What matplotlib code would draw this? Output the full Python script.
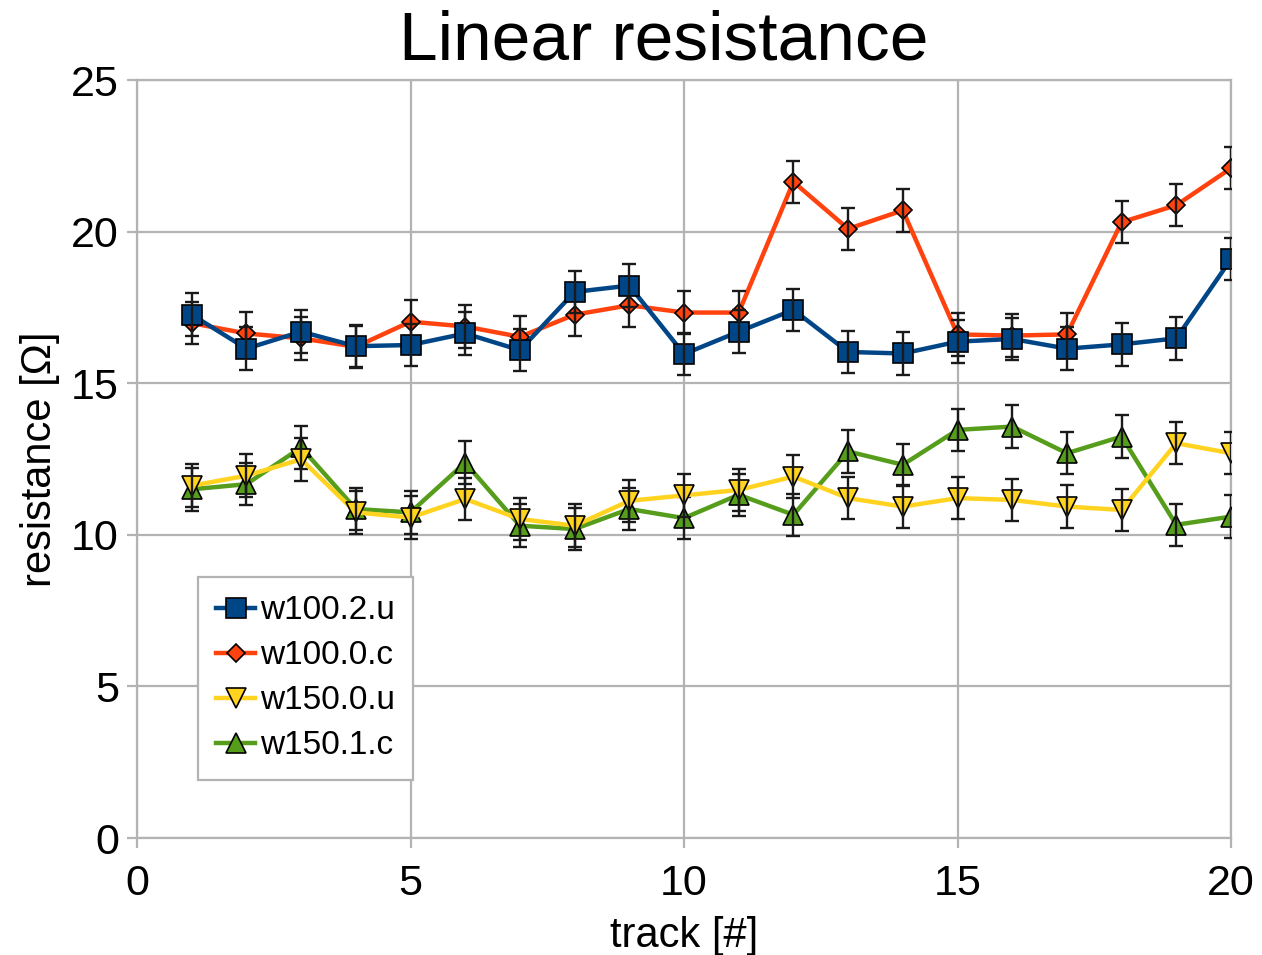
import numpy as np
import matplotlib
matplotlib.use("Agg")
import matplotlib.pyplot as plt

plt.rcParams['font.family'] = ['Liberation Sans', 'DejaVu Sans']

track = list(range(1, 21))

w100_2_u = [17.26, 16.14, 16.70, 16.22, 16.26, 16.64, 16.09, 18.01, 18.22, 15.96,
            16.70, 17.42, 16.03, 15.98, 16.37, 16.46, 16.14, 16.28, 16.48, 19.09]
w100_0_c = [16.98, 16.64, 16.48, 16.20, 17.03, 16.87, 16.53, 17.26, 17.57, 17.33,
            17.33, 21.64, 20.09, 20.70, 16.61, 16.57, 16.61, 20.31, 20.87, 22.09]
w150_0_u = [11.62, 11.95, 12.49, 10.74, 10.57, 11.18, 10.52, 10.30, 11.12, 11.30,
            11.48, 11.92, 11.21, 10.93, 11.21, 11.15, 10.93, 10.82, 13.02, 12.69]
w150_1_c = [11.50, 11.67, 12.88, 10.85, 10.74, 12.38, 10.30, 10.19, 10.85, 10.55,
            11.32, 10.66, 12.75, 12.31, 13.46, 13.57, 12.69, 13.24, 10.33, 10.60]
err = 0.7

labels = ['w100.2.u', 'w100.0.c', 'w150.0.u', 'w150.1.c']
series = [w100_2_u, w100_0_c, w150_0_u, w150_1_c]
colors = ['#004586', '#ff420e', '#ffd320', '#579d1c']
markers = ['s', 'D', 'v', '^']
msizes = [15, 9, 15, 15]
zorders = [8, 7, 6, 5]

fig = plt.figure(figsize=(12.62, 9.55), dpi=100)
ax = fig.add_axes([137/1262, 1 - 838/955, (1231-137)/1262, (838-80)/955])

grid_c = '#b3b3b3'
handles = []
for y, lab, c, m, ms, z in zip(series, labels, colors, markers, msizes, zorders):
    h, = ax.plot(track, y, color=c, lw=3.2, marker=m, markersize=ms,
                 markerfacecolor=c, markeredgecolor='black', markeredgewidth=1.2,
                 label=lab, zorder=z)
    ax.errorbar(track, y, yerr=err, fmt='none', ecolor='#1a1a1a', elinewidth=1.7,
                capsize=5, capthick=1.7, zorder=z + 0.5)
    handles.append(h)

ax.set_xlim(0, 20)
ax.set_ylim(0, 25)
ax.set_xticks(range(0, 21, 5))
ax.set_yticks(range(0, 26, 5))
ax.grid(True, color=grid_c, lw=1.6)
ax.set_axisbelow(True)
for s in ax.spines.values():
    s.set_color(grid_c)
    s.set_linewidth(1.6)
ax.tick_params(axis='both', colors=grid_c, length=7, width=1.6, labelsize=31,
               labelcolor='black')
ax.tick_params(axis='x', pad=12)
ax.tick_params(axis='y', pad=6)

ax.set_xlabel('track [#]', fontsize=30, labelpad=8)
ax.set_ylabel('resistance [Ω]', fontsize=30, labelpad=8)
fig.text(664/1262, 1 - 60/955, 'Linear resistance', fontsize=50,
         ha='center', va='baseline')

leg = ax.legend(handles=handles, loc='upper left',
                bbox_to_anchor=((198-137)/1094, (838-577)/758),
                borderaxespad=0, fontsize=24, handlelength=1.15,
                handletextpad=0.15, labelspacing=0.42, fancybox=False,
                edgecolor=grid_c, framealpha=1, borderpad=0.55)
leg.get_frame().set_linewidth(1.6)
leg.set_zorder(20)

fig.savefig('out.png', dpi=100)
